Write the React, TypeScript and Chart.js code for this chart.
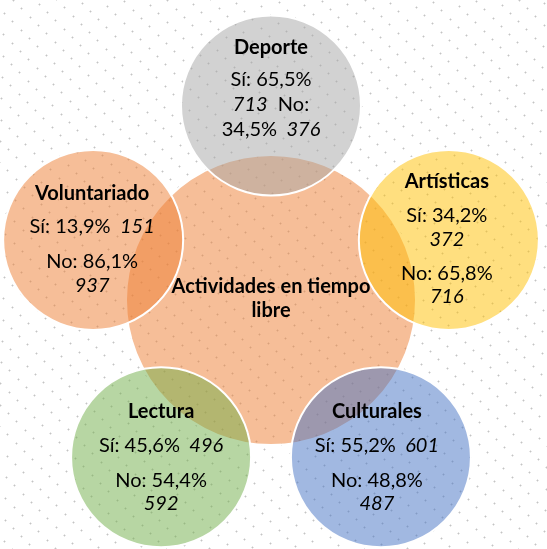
import React, { useEffect, useRef } from "react";
import { Chart, registerables } from "chart.js";

Chart.register(...registerables);

// ---- data ----
const CATEGORIES = ["Deporte", "Artísticas", "Culturales", "Lectura", "Voluntariado"];
const SI_PCT = [65.5, 34.2, 55.2, 45.6, 13.9];
const SI_N = [713, 372, 601, 496, 151];
const NO_PCT = [34.5, 65.8, 48.8, 54.4, 86.1];
const NO_N = [376, 716, 487, 592, 937];
const CENTER_LABEL = ["Actividades en tiempo", "libre"];

// ---- layout / style ----
const W = 547;
const H = 549;
const CENTER = { x: 271, y: 300, r: 145 };
const RING = 187;
const STRETCH_Y = 1.04;
const SAT_R = 90;
const ANGLES = [90, 18, -54, -126, 162];
const CENTER_FILL = "rgba(237,125,49,0.5)";
const SAT_FILLS = [
  "rgba(165,165,165,0.5)",
  "rgba(255,192,0,0.5)",
  "rgba(68,114,196,0.5)",
  "rgba(112,173,71,0.5)",
  "rgba(237,125,49,0.5)",
];
const FONT_SIZE = 20;
const FAMILY = "Lato, 'Open Sans', sans-serif";

const fmt = (v: number) => v.toFixed(1).replace(".", ",") + "%";

type Seg = { t: string; i?: boolean };
type Line = { dy: number; segs: Seg[] };
type Block = { dx: number; titleDy: number; lines: Line[] };

function blockFor(k: number): Block {
  const si = `Sí: ${fmt(SI_PCT[k])}`;
  const siN = String(SI_N[k]);
  const no = `No: ${fmt(NO_PCT[k])}`;
  const noN = String(NO_N[k]);
  switch (k) {
    case 0:
      return {
        dx: 0,
        titleDy: -52,
        lines: [
          { dy: -20, segs: [{ t: si }] },
          { dy: 5, segs: [{ t: siN, i: true }, { t: "  No:" }] },
          { dy: 30, segs: [{ t: fmt(NO_PCT[k]) }, { t: "  " + noN, i: true }] },
        ],
      };
    case 1:
      return {
        dx: -2,
        titleDy: -52,
        lines: [
          { dy: -18, segs: [{ t: si }] },
          { dy: 6, segs: [{ t: siN, i: true }] },
          { dy: 40, segs: [{ t: no }] },
          { dy: 63, segs: [{ t: noN, i: true }] },
        ],
      };
    case 2:
    case 3:
      return {
        dx: k === 2 ? -4 : 0,
        titleDy: -39,
        lines: [
          { dy: -5, segs: [{ t: si }, { t: "  " + siN, i: true }] },
          { dy: 30, segs: [{ t: no }] },
          { dy: 53, segs: [{ t: noN, i: true }] },
        ],
      };
    default:
      return {
        dx: -1,
        titleDy: -40,
        lines: [
          { dy: -7, segs: [{ t: si }, { t: "  " + siN, i: true }] },
          { dy: 28, segs: [{ t: no }] },
          { dy: 52, segs: [{ t: noN, i: true }] },
        ],
      };
  }
}

const fontOf = (seg: Seg) =>
  `${seg.i ? "italic " : ""}${FONT_SIZE}px ${FAMILY}`;

function drawSegs(ctx: CanvasRenderingContext2D, segs: Seg[], cx: number, y: number) {
  const widths = segs.map((s) => {
    ctx.font = fontOf(s);
    return ctx.measureText(s.t).width;
  });
  const total = widths.reduce((a, b) => a + b, 0);
  let x = cx - total / 2;
  segs.forEach((s, idx) => {
    ctx.font = fontOf(s);
    ctx.fillText(s.t, x, y);
    x += widths[idx];
  });
}

const backgroundPlugin = {
  id: "bgDots",
  beforeDraw(chart: any) {
    const ctx: CanvasRenderingContext2D = chart.ctx;
    ctx.save();
    ctx.fillStyle = "#ffffff";
    ctx.fillRect(0, 0, chart.width, chart.height);
    for (let i = -120; i <= 120; i++) {
      for (let j = -60; j <= 60; j++) {
        const x = Math.round(13 + 8.3 * i - 9 * j);
        const y = Math.round(8.3 * i + 13 * j);
        if (x < -2 || x > chart.width + 2 || y < -2 || y > chart.height + 2) continue;
        ctx.fillStyle = "#e4e4e4";
        ctx.fillRect(x - 1, y, 3, 1);
        ctx.fillRect(x, y - 1, 1, 3);
        ctx.fillStyle = "#c4c4c4";
        ctx.fillRect(x, y, 1, 1);
      }
    }
    ctx.restore();
  },
};

const labelPlugin = {
  id: "circleLabels",
  afterDatasetsDraw(chart: any) {
    const ctx: CanvasRenderingContext2D = chart.ctx;
    const meta = chart.getDatasetMeta(0);
    ctx.save();
    ctx.fillStyle = "#000000";
    ctx.textAlign = "left";
    ctx.textBaseline = "alphabetic";
    // center label
    const c = meta.data[0];
    ctx.font = `bold ${FONT_SIZE}px ${FAMILY}`;
    CENTER_LABEL.forEach((t, idx) => {
      const w = ctx.measureText(t).width;
      ctx.fillText(t, c.x - w / 2, c.y - 7 + idx * 24);
    });
    // satellites
    CATEGORIES.forEach((name, k) => {
      const el = meta.data[k + 1];
      const b = blockFor(k);
      const cx = el.x + b.dx;
      ctx.font = `bold ${FONT_SIZE}px ${FAMILY}`;
      const w = ctx.measureText(name).width;
      ctx.fillText(name, cx - w / 2, el.y + b.titleDy);
      b.lines.forEach((ln) => drawSegs(ctx, ln.segs, cx, el.y + ln.dy));
    });
    ctx.restore();
  },
};

export default function App() {
  const ref = useRef<HTMLCanvasElement | null>(null);

  useEffect(() => {
    document.body.style.margin = "0";
    const canvas = ref.current;
    if (!canvas) return;

    const points = [
      { x: CENTER.x, y: CENTER.y, r: CENTER.r },
      ...ANGLES.map((a) => {
        const rad = (a * Math.PI) / 180;
        return {
          x: CENTER.x + RING * Math.cos(rad),
          y: CENTER.y - RING * STRETCH_Y * Math.sin(rad),
          r: SAT_R,
        };
      }),
    ];

    const chart = new Chart(canvas, {
      type: "bubble",
      data: {
        labels: ["Actividades en tiempo libre", ...CATEGORIES],
        datasets: [
          {
            data: points,
            backgroundColor: [CENTER_FILL, ...SAT_FILLS],
            borderColor: "#ffffff",
            borderWidth: 2,
            hoverRadius: 0,
            clip: false,
          } as any,
        ],
      },
      options: {
        responsive: false,
        animation: false,
        devicePixelRatio: 1,
        events: [],
        layout: { padding: 0, autoPadding: false },
        plugins: { legend: { display: false }, tooltip: { enabled: false } },
        scales: {
          x: { type: "linear", min: 0, max: W, display: false },
          y: { type: "linear", min: 0, max: H, reverse: true, display: false },
        },
      },
      plugins: [backgroundPlugin, labelPlugin],
    });

    const fonts: any = (document as any).fonts;
    if (fonts && fonts.load) {
      Promise.all([
        fonts.load(`${FONT_SIZE}px Lato`),
        fonts.load(`bold ${FONT_SIZE}px Lato`),
        fonts.load(`italic ${FONT_SIZE}px Lato`),
      ])
        .then(() => chart.draw())
        .catch(() => {});
    }

    return () => chart.destroy();
  }, []);

  return (
    <div style={{ width: W, height: H, position: "relative" }}>
      <canvas ref={ref} width={W} height={H} style={{ display: "block" }} />
    </div>
  );
}
